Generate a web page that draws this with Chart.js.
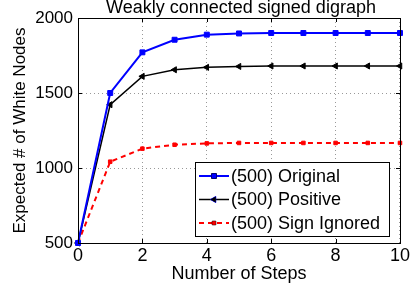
<!DOCTYPE html>
<html>
<head>
<meta charset="utf-8">
<script src="https://cdn.jsdelivr.net/npm/chart.js@4/dist/chart.umd.min.js"></script>
<style>
html,body{margin:0;padding:0;background:#fff;}
#wrap{width:412px;height:290px;position:relative;}
</style>
</head>
<body>
<div id="wrap"><canvas id="c" width="412" height="290"></canvas></div>
<script>
const titleText = "Weakly connected signed digraph";
const xTitle = "Number of Steps";
const yTitle = "Expected # of White Nodes";
const steps = [0, 1, 2, 3, 4, 5, 6, 7, 8, 9, 10];
const originalVals = [500, 1500, 1771, 1855, 1889, 1897, 1900, 1900, 1900, 1900, 1900];
const positiveVals = [500, 1422, 1611, 1655, 1671, 1677, 1680, 1680, 1680, 1680, 1680];
const ignoredVals  = [500, 1042, 1129, 1155, 1164, 1167, 1167, 1167, 1167, 1167, 1167];
const seriesNames = ["(500) Original", "(500) Positive", "(500) Sign Ignored"];
const xTicks = [0, 2, 4, 6, 8, 10];
const yTicks = [500, 1000, 1500, 2000];

const FONT = "'Liberation Sans', Arial, Helvetica, sans-serif";
const toXY = arr => steps.map((s, i) => ({x: s, y: arr[i]}));

const boxPlugin = {
  id: 'boxPlugin',
  afterDraw(chart) {
    const {ctx, chartArea: a, scales} = chart;
    ctx.save();
    ctx.strokeStyle = '#000';
    ctx.lineWidth = 1;
    ctx.beginPath();
    xTicks.forEach(v => {
      const px = Math.round(scales.x.getPixelForValue(v)) + 0.5;
      ctx.moveTo(px, a.bottom); ctx.lineTo(px, a.bottom - 4);
      ctx.moveTo(px, a.top); ctx.lineTo(px, a.top + 4);
    });
    yTicks.forEach(v => {
      const py = Math.round(scales.y.getPixelForValue(v)) + 0.5;
      ctx.moveTo(a.left, py); ctx.lineTo(a.left + 4, py);
      ctx.moveTo(a.right, py); ctx.lineTo(a.right - 4, py);
    });
    ctx.stroke();
    ctx.strokeRect(Math.round(a.left) + 0.5, Math.round(a.top) + 0.5,
                   Math.round(a.right - a.left), Math.round(a.bottom - a.top));
    ctx.fillStyle = '#000';
    ctx.font = '18px ' + FONT;
    ctx.textAlign = 'center';
    ctx.textBaseline = 'alphabetic';
    ctx.fillText(titleText, (a.left + a.right) / 2 + 2, 12.5);
    const lx = 195, ly = 162, lw = 194, lh = 74;
    ctx.fillStyle = '#fff';
    ctx.fillRect(lx, ly, lw, lh);
    ctx.strokeStyle = '#000';
    ctx.lineWidth = 1;
    ctx.strokeRect(lx + 0.5, ly + 0.5, lw, lh);
    const rows = [176, 199.5, 223];
    chart.data.datasets.forEach((ds, i) => {
      const y = rows[i];
      ctx.save();
      ctx.strokeStyle = ds.borderColor;
      ctx.lineWidth = ds.borderWidth;
      ctx.setLineDash(ds.borderDash || []);
      ctx.beginPath();
      ctx.moveTo(199, y); ctx.lineTo(229, y);
      ctx.stroke();
      ctx.restore();
      Chart.helpers.drawPoint(ctx, {
        pointStyle: ds.pointStyle, rotation: ds.pointRotation || 0,
        radius: ds.pointRadius, borderWidth: 1
      }, 214, y);
      ctx.fillStyle = ds.borderColor;
      ctx.strokeStyle = ds.borderColor;
      ctx.fill();
      ctx.fillStyle = '#000';
      ctx.font = '18px ' + FONT;
      ctx.textAlign = 'left';
      ctx.textBaseline = 'middle';
      ctx.fillText(ds.label, 231, y + 1);
    });
    ctx.restore();
  }
};

new Chart(document.getElementById('c'), {
  type: 'line',
  data: {
    datasets: [
      {label: seriesNames[0], data: toXY(originalVals), borderColor: '#0000ff', backgroundColor: '#0000ff',
       borderWidth: 2, pointStyle: 'rect', pointRadius: 3.5, pointBorderWidth: 1, clip: false},
      {label: seriesNames[1], data: toXY(positiveVals), borderColor: '#000000', backgroundColor: '#000000',
       borderWidth: 1.5, pointStyle: 'triangle', pointRotation: -90, pointRadius: 3.5, pointBorderWidth: 1, clip: false},
      {label: seriesNames[2], data: toXY(ignoredVals), borderColor: '#ff0000', backgroundColor: '#ff0000',
       borderWidth: 2, borderDash: [5, 4], pointStyle: 'rect', pointRadius: 2.5, pointBorderWidth: 1, clip: false}
    ]
  },
  options: {
    responsive: false,
    animation: false,
    devicePixelRatio: 1,
    layout: {padding: {top: 18, right: 10, bottom: 0, left: 0}},
    plugins: {legend: {display: false}, title: {display: false}, tooltip: {enabled: false}},
    elements: {line: {tension: 0}},
    scales: {
      x: {
        type: 'linear', min: 0, max: 10,
        afterBuildTicks: s => { s.ticks = xTicks.map(v => ({value: v})); },
        afterFit: s => { s.height = 47; },
        grid: {color: '#999', lineWidth: 1, drawTicks: false},
        border: {display: false, dash: [1, 3]},
        ticks: {color: '#000', font: {family: FONT, size: 18}, padding: 2, maxRotation: 0, autoSkip: false,
                callback: v => String(v)},
        title: {display: true, text: xTitle, color: '#000', font: {family: FONT, size: 18}, padding: {top: 0, bottom: 5}}
      },
      y: {
        type: 'linear', min: 500, max: 2000,
        afterBuildTicks: s => { s.ticks = yTicks.map(v => ({value: v})); },
        afterFit: s => { s.width = 78; },
        grid: {color: '#999', lineWidth: 1, drawTicks: false},
        border: {display: false, dash: [1, 3]},
        ticks: {color: '#000', font: {family: FONT, size: 17}, padding: 5, callback: v => String(v)},
        title: {display: true, text: yTitle, color: '#000', font: {family: FONT, size: 17}, padding: {top: 10, bottom: 0}}
      }
    }
  },
  plugins: [boxPlugin]
});
</script>
</body>
</html>
